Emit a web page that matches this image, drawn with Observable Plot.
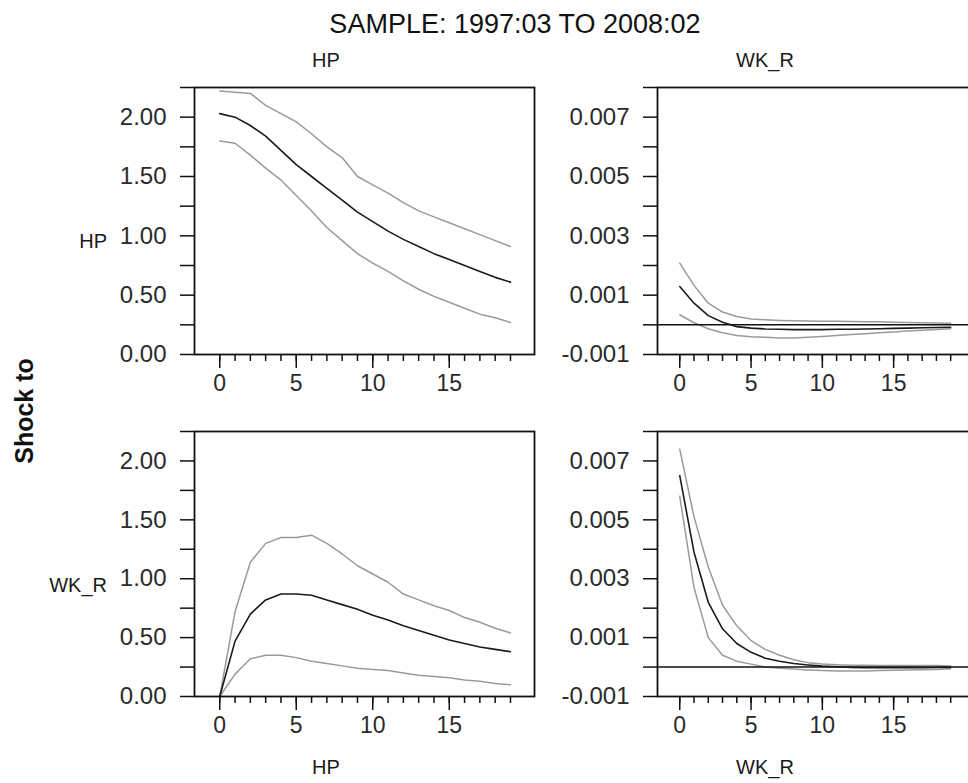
<!DOCTYPE html>
<html><head><meta charset="utf-8">
<script src="https://cdn.jsdelivr.net/npm/d3@7"></script>
<script src="https://cdn.jsdelivr.net/npm/@observablehq/plot@0.6"></script>
<style>
html,body{margin:0;padding:0;background:#fff;overflow:hidden;}
#root{position:relative;width:968px;height:783px;overflow:hidden;font-family:"Liberation Sans",Arial,sans-serif;color:#1a1a1a;}
.panel{position:absolute;}
.lbl{position:absolute;white-space:nowrap;line-height:1;}
</style></head><body><div id="root"></div>
<script>
// ---- data ----
const title = "SAMPLE: 1997:03 TO 2008:02";
const variables = ["HP", "WK_R"];
const yAxisTitle = "Shock to";
const horizons = [0,1,2,3,4,5,6,7,8,9,10,11,12,13,14,15,16,17,18,19];
const xMajorTicks = [0,5,10,15];

const yTicksLevel = [0,0.25,0.5,0.75,1,1.25,1.5,1.75,2,2.25];
const yTicksRate = [-0.001,0,0.001,0.002,0.003,0.004,0.005,0.006,0.007,0.008];

// response of HP to HP shock
const hpHpMid = [2.03,2.00,1.93,1.84,1.72,1.60,1.50,1.40,1.30,1.20,1.12,1.04,0.97,0.91,0.85,0.80,0.75,0.70,0.65,0.61];
const hpHpHi  = [2.22,2.21,2.20,2.10,2.03,1.96,1.86,1.75,1.66,1.50,1.43,1.36,1.28,1.21,1.16,1.11,1.06,1.01,0.96,0.91];
const hpHpLo  = [1.80,1.78,1.68,1.57,1.47,1.34,1.21,1.07,0.96,0.85,0.77,0.70,0.62,0.55,0.49,0.44,0.39,0.34,0.31,0.27];

// response of WK_R to HP shock
const hpWkMid = [0.00129,0.00073,0.00031,0.00009,-0.00006,-0.00011,-0.00014,-0.00015,-0.00016,-0.00016,-0.00016,-0.00015,-0.00015,-0.00014,-0.00013,-0.00012,-0.00011,-0.00010,-0.00009,-0.00008];
const hpWkHi  = [0.00208,0.00133,0.00073,0.00043,0.00028,0.00020,0.00017,0.00015,0.00014,0.00013,0.00012,0.00012,0.00011,0.00010,0.00010,0.00009,0.00008,0.00007,0.00006,0.00005];
const hpWkLo  = [0.00034,0.00007,-0.00013,-0.00027,-0.00036,-0.00040,-0.00042,-0.00044,-0.00044,-0.00042,-0.00039,-0.00036,-0.00033,-0.00030,-0.00027,-0.00024,-0.00021,-0.00018,-0.00016,-0.00013];

// response of HP to WK_R shock
const wkHpMid = [0,0.47,0.70,0.82,0.87,0.87,0.86,0.82,0.78,0.74,0.69,0.65,0.60,0.56,0.52,0.48,0.45,0.42,0.40,0.38];
const wkHpHi  = [0,0.72,1.14,1.30,1.35,1.35,1.37,1.30,1.21,1.11,1.04,0.97,0.87,0.82,0.77,0.73,0.67,0.63,0.58,0.54];
const wkHpLo  = [0,0.19,0.32,0.35,0.35,0.33,0.30,0.28,0.26,0.24,0.23,0.22,0.20,0.18,0.17,0.16,0.14,0.13,0.11,0.10];

// response of WK_R to WK_R shock
const wkWkMid = [0.0065,0.0039,0.0022,0.0013,0.0008,0.0005,0.0003,0.0002,0.00012,0.00007,0.00003,0.00001,-0.00001,-0.00002,-0.00002,-0.00002,-0.00002,-0.00002,-0.00001,-0.00001];
const wkWkHi  = [0.0074,0.0051,0.0034,0.0021,0.0014,0.0009,0.0006,0.0004,0.00025,0.00015,0.00010,0.00008,0.00006,0.00006,0.00005,0.00005,0.00005,0.00005,0.00005,0.00004];
const wkWkLo  = [0.0058,0.0027,0.0010,0.0004,0.0002,0.0001,0.0,-0.00004,-0.00007,-0.00010,-0.00012,-0.00013,-0.00013,-0.00013,-0.00012,-0.00011,-0.00010,-0.00009,-0.00008,-0.00006];

// ---- drawing ----
const root = document.getElementById("root");
const FONT = "'Liberation Sans', Arial, sans-serif";

const fmtLevel = d => (Math.round(d * 100) % 50 === 0) ? d.toFixed(2) : "";
const fmtRate = d => (Math.abs(Math.round(d * 1000)) % 2 === 1) ? d.toFixed(3) : "";

function panel(cfg) {
  const rows = horizons.map((h, i) => ({h, mid: cfg.mid[i], hi: cfg.hi[i], lo: cfg.lo[i]}));
  const marks = [
    Plot.line(rows, {x: "h", y: "hi", stroke: "#9a9a9a", strokeWidth: 1.5}),
    Plot.line(rows, {x: "h", y: "lo", stroke: "#9a9a9a", strokeWidth: 1.5}),
  ];
  if (cfg.zero) marks.push(Plot.ruleY([0], {stroke: "#111", strokeWidth: 1.5}));
  marks.push(
    Plot.line(rows, {x: "h", y: "mid", stroke: "#1a1a1a", strokeWidth: 1.6}),
    Plot.frame({stroke: "#111", strokeWidth: 1.8}),
    Plot.axisY(cfg.yTicks, {label: null, tickSize: 14, tickPadding: 14, tickFormat: cfg.fmt, fontSize: 24, stroke: "#111", strokeWidth: 1.5, fill: "#2a2a2a"}),
    Plot.axisX(xMajorTicks, {label: null, tickSize: 14, tickPadding: 6, fontSize: 23, stroke: "#111", strokeWidth: 1.5, fill: "#2a2a2a"}),
    Plot.axisX(horizons, {label: null, tickSize: 7, tickFormat: () => "", stroke: "#111", strokeWidth: 1.5})
  );
  const svg = Plot.plot({
    width: cfg.width, height: cfg.height,
    marginLeft: cfg.marginLeft, marginRight: 2, marginTop: 87, marginBottom: cfg.height - 87 - cfg.frameH,
    x: {domain: cfg.xDomain, label: null},
    y: {domain: cfg.yDomain, label: null},
    style: {fontFamily: FONT, background: "transparent", overflow: "visible"},
    marks
  });
  svg.classList.add("panel");
  svg.style.left = cfg.left + "px";
  svg.style.top = cfg.top + "px";
  root.appendChild(svg);
}

const leftX = [-1.65, 20.57];
const rightX = [-1.56, 20.6];

panel({mid: hpHpMid, hi: hpHpHi, lo: hpHpLo, yDomain: [0, 2.25], yTicks: yTicksLevel, fmt: fmtLevel,
  left: 0, top: 0, width: 536, height: 404, frameH: 267, marginLeft: 194, xDomain: leftX});
panel({mid: hpWkMid, hi: hpWkHi, lo: hpWkLo, yDomain: [-0.001, 0.008], yTicks: yTicksRate, fmt: fmtRate, zero: true,
  left: 540, top: 0, width: 435, height: 404, frameH: 267, marginLeft: 117, xDomain: rightX});
panel({mid: wkHpMid, hi: wkHpHi, lo: wkHpLo, yDomain: [0, 2.25], yTicks: yTicksLevel, fmt: fmtLevel,
  left: 0, top: 344, width: 536, height: 402, frameH: 265, marginLeft: 194, xDomain: leftX});
panel({mid: wkWkMid, hi: wkWkHi, lo: wkWkLo, yDomain: [-0.001, 0.008], yTicks: yTicksRate, fmt: fmtRate, zero: true,
  left: 540, top: 344, width: 435, height: 402, frameH: 265, marginLeft: 117, xDomain: rightX});

function label(text, x, y, size, opts = {}) {
  const d = document.createElement("div");
  d.className = "lbl";
  d.textContent = text;
  d.style.fontSize = size + "px";
  d.style.left = x + "px";
  d.style.top = y + "px";
  let tf = opts.anchor === "end" ? "translate(-100%,-50%)" : "translate(-50%,-50%)";
  if (opts.rotate) tf += ` rotate(${opts.rotate}deg)`;
  d.style.transform = tf;
  if (opts.bold) d.style.fontWeight = "bold";
  if (opts.color) d.style.color = opts.color;
  root.appendChild(d);
}

label(title, 515, 24, 27, {color: "#111"});
label(variables[0], 326, 60, 20);
label(variables[1], 765, 60, 20);
label(variables[0], 326, 767, 20);
label(variables[1], 765, 767, 20);
label(variables[0], 107, 241, 20, {anchor: "end"});
label(variables[1], 107, 585, 20, {anchor: "end"});
label(yAxisTitle, 24, 411, 25, {bold: true, rotate: -90, color: "#111"});
</script>
</body></html>
